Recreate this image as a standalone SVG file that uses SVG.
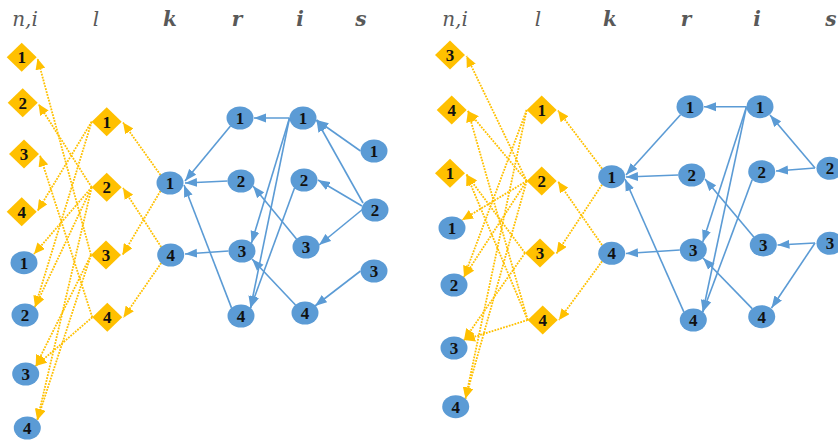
<svg xmlns="http://www.w3.org/2000/svg" width="838" height="441" viewBox="0 0 838 441">
<style>
.hd{font-family:"DejaVu Serif","Liberation Serif",serif;font-style:italic;font-size:20px;fill:#595959;text-anchor:middle}
.hb{font-weight:bold}
.dm{fill:#FFC000}
.cb{fill:#5B9BD5}
.t{font-family:"Liberation Serif","DejaVu Serif",serif;font-weight:bold;font-size:17px;fill:#111;text-anchor:middle}
.ye{stroke:#FFC000;stroke-width:1.8;stroke-dasharray:1.8 1.2;fill:none;marker-end:url(#ay)}
.be{stroke:#5B9BD5;stroke-width:1.6;fill:none;marker-end:url(#ab)}
</style>
<defs>
<marker id="ay" markerUnits="userSpaceOnUse" markerWidth="12" markerHeight="10" refX="11" refY="5" orient="auto"><path d="M0,0 L11,5 L0,10 z" fill="#FFC000"/></marker>
<marker id="ab" markerUnits="userSpaceOnUse" markerWidth="13" markerHeight="10" refX="12" refY="5" orient="auto"><path d="M0,0.5 L12,5 L0,9.5 z" fill="#5B9BD5"/></marker>
<polygon id="dia" points="0,-14.5 15,0 0,14.5 -15,0"/>
<ellipse id="ell" rx="13.5" ry="11.5"/>
</defs>
<rect width="838" height="441" fill="#fff"/>
<g id="headers">
<text class="hd" x="25" y="26">n,i</text>
<text class="hd" x="96" y="26">l</text>
<text class="hd hb" x="170" y="26">k</text>
<text class="hd hb" x="237" y="26">r</text>
<text class="hd hb" x="300" y="26">i</text>
<text class="hd hb" x="361" y="26">s</text>
<text class="hd" x="455" y="26">n,i</text>
<text class="hd" x="538" y="26">l</text>
<text class="hd hb" x="610" y="26">k</text>
<text class="hd hb" x="686" y="26">r</text>
<text class="hd hb" x="757" y="26">i</text>
<text class="hd hb" x="831" y="26">s</text>
</g>
<g id="connectors">
<!-- left panel yellow -->
<line class="ye" x1="160.5" y1="175" x2="123" y2="122.5"/>
<line class="ye" x1="160.5" y1="191" x2="122.5" y2="255"/>
<line class="ye" x1="161.2" y1="247" x2="123" y2="188"/>
<line class="ye" x1="161.2" y1="263" x2="123.5" y2="317.5"/>
<line class="ye" x1="91.7" y1="121.7" x2="37.5" y2="211"/>
<line class="ye" x1="91.7" y1="121.7" x2="35" y2="307"/>
<line class="ye" x1="91.7" y1="187.3" x2="38.5" y2="104"/>
<line class="ye" x1="91.7" y1="187.3" x2="34" y2="254"/>
<line class="ye" x1="91.7" y1="187.3" x2="35" y2="307"/>
<line class="ye" x1="91.7" y1="187.3" x2="37.3" y2="420"/>
<line class="ye" x1="91" y1="255" x2="37.5" y2="58.5"/>
<line class="ye" x1="91" y1="255" x2="35.7" y2="366"/>
<line class="ye" x1="91" y1="255" x2="37.3" y2="420"/>
<line class="ye" x1="92.3" y1="317.3" x2="40" y2="155.5"/>
<line class="ye" x1="92.3" y1="317.3" x2="35.7" y2="366"/>
<!-- left panel blue -->
<line class="be" x1="230.5" y1="126.1" x2="185" y2="181"/>
<line class="be" x1="227.5" y1="181" x2="185" y2="183"/>
<line class="be" x1="231.5" y1="307.9" x2="184" y2="185"/>
<line class="be" x1="228.5" y1="251" x2="185" y2="254"/>
<line class="be" x1="289.5" y1="118" x2="254" y2="118"/>
<line class="be" x1="289.5" y1="118" x2="251.5" y2="243"/>
<line class="be" x1="289.5" y1="118" x2="250.5" y2="308"/>
<line class="be" x1="294.5" y1="188" x2="250.5" y2="308"/>
<line class="be" x1="296.5" y1="239" x2="253" y2="186"/>
<line class="be" x1="295.5" y1="305" x2="252" y2="259"/>
<line class="be" x1="360.5" y1="151" x2="316.5" y2="120"/>
<line class="be" x1="363" y1="203" x2="316.5" y2="120"/>
<line class="be" x1="362" y1="206" x2="318" y2="180"/>
<line class="be" x1="363" y1="209" x2="319" y2="245"/>
<line class="be" x1="360.5" y1="271" x2="315" y2="306"/>
<!-- right panel yellow -->
<line class="ye" x1="602" y1="168.6" x2="558" y2="110.5"/>
<line class="ye" x1="602" y1="184.8" x2="556.5" y2="253.5"/>
<line class="ye" x1="602" y1="245" x2="558" y2="181.5"/>
<line class="ye" x1="602" y1="261.4" x2="559" y2="320"/>
<line class="ye" x1="526.7" y1="110" x2="464" y2="277"/>
<line class="ye" x1="526.7" y1="110" x2="465.5" y2="398.5"/>
<line class="ye" x1="526.7" y1="181" x2="466.5" y2="56"/>
<line class="ye" x1="526.7" y1="181" x2="468" y2="111"/>
<line class="ye" x1="526.7" y1="181" x2="462" y2="220"/>
<line class="ye" x1="526.7" y1="181" x2="464" y2="277"/>
<line class="ye" x1="526.7" y1="181" x2="465.5" y2="398.5"/>
<line class="ye" x1="525" y1="253" x2="466.5" y2="174.5"/>
<line class="ye" x1="525" y1="253" x2="464" y2="340"/>
<line class="ye" x1="527.7" y1="320" x2="468" y2="111"/>
<line class="ye" x1="527.7" y1="320" x2="466.5" y2="174.5"/>
<line class="ye" x1="527.7" y1="320" x2="464" y2="340"/>
<!-- right panel blue -->
<line class="be" x1="680.5" y1="114.8" x2="626" y2="175"/>
<line class="be" x1="678.2" y1="175" x2="626" y2="177"/>
<line class="be" x1="683.8" y1="311.9" x2="625" y2="179"/>
<line class="be" x1="679.8" y1="250" x2="626" y2="253.5"/>
<line class="be" x1="746.5" y1="106.7" x2="704" y2="106.7"/>
<line class="be" x1="746.5" y1="106.7" x2="702.8" y2="242"/>
<line class="be" x1="746.5" y1="106.7" x2="702.8" y2="312"/>
<line class="be" x1="752.2" y1="179.8" x2="702.8" y2="312"/>
<line class="be" x1="753.8" y1="236.9" x2="705" y2="179"/>
<line class="be" x1="752.2" y1="308.6" x2="703" y2="258"/>
<line class="be" x1="815" y1="168" x2="770" y2="115"/>
<line class="be" x1="815" y1="168" x2="776" y2="171"/>
<line class="be" x1="815" y1="243" x2="777.5" y2="245"/>
<line class="be" x1="815" y1="243" x2="771.5" y2="308"/>
</g>
<!-- left panel nodes -->
<g id="L-ni-d1"><use href="#dia" class="dm" x="21.7" y="57.3"/><text class="t" x="21.7" y="63.3">1</text></g>
<g id="L-ni-d2"><use href="#dia" class="dm" x="22.7" y="102.7"/><text class="t" x="22.7" y="108.7">2</text></g>
<g id="L-ni-d3"><use href="#dia" class="dm" x="24" y="154"/><text class="t" x="24" y="160">3</text></g>
<g id="L-ni-d4"><use href="#dia" class="dm" x="21.7" y="211.7"/><text class="t" x="21.7" y="217.7">4</text></g>
<g id="L-ni-c1"><use href="#ell" class="cb" x="24" y="262.7"/><text class="t" x="24" y="268.7">1</text></g>
<g id="L-ni-c2"><use href="#ell" class="cb" x="25" y="315"/><text class="t" x="25" y="321">2</text></g>
<g id="L-ni-c3"><use href="#ell" class="cb" x="25.7" y="374"/><text class="t" x="25.7" y="380">3</text></g>
<g id="L-ni-c4"><use href="#ell" class="cb" x="27.3" y="428"/><text class="t" x="27.3" y="434">4</text></g>
<g id="L-l1"><use href="#dia" class="dm" x="106.7" y="121.7"/><text class="t" x="106.7" y="127.7">1</text></g>
<g id="L-l2"><use href="#dia" class="dm" x="106.7" y="187.3"/><text class="t" x="106.7" y="193.3">2</text></g>
<g id="L-l3"><use href="#dia" class="dm" x="106" y="255"/><text class="t" x="106" y="261">3</text></g>
<g id="L-l4"><use href="#dia" class="dm" x="107.3" y="317.3"/><text class="t" x="107.3" y="323.3">4</text></g>
<g id="L-k1"><use href="#ell" class="cb" x="170" y="183"/><text class="t" x="170" y="189">1</text></g>
<g id="L-k4"><use href="#ell" class="cb" x="170.7" y="255"/><text class="t" x="170.7" y="261">4</text></g>
<g id="L-r1"><use href="#ell" class="cb" x="240" y="118"/><text class="t" x="240" y="124">1</text></g>
<g id="L-r2"><use href="#ell" class="cb" x="241" y="181"/><text class="t" x="241" y="187">2</text></g>
<g id="L-r3"><use href="#ell" class="cb" x="242" y="251"/><text class="t" x="242" y="257">3</text></g>
<g id="L-r4"><use href="#ell" class="cb" x="241" y="316"/><text class="t" x="241" y="322">4</text></g>
<g id="L-i1"><use href="#ell" class="cb" x="303" y="118"/><text class="t" x="303" y="124">1</text></g>
<g id="L-i2"><use href="#ell" class="cb" x="304" y="180"/><text class="t" x="304" y="186">2</text></g>
<g id="L-i3"><use href="#ell" class="cb" x="306" y="247"/><text class="t" x="306" y="253">3</text></g>
<g id="L-i4"><use href="#ell" class="cb" x="305" y="313"/><text class="t" x="305" y="319">4</text></g>
<g id="L-s1"><use href="#ell" class="cb" x="374" y="151"/><text class="t" x="374" y="157">1</text></g>
<g id="L-s2"><use href="#ell" class="cb" x="375" y="210"/><text class="t" x="375" y="216">2</text></g>
<g id="L-s3"><use href="#ell" class="cb" x="374" y="271"/><text class="t" x="374" y="277">3</text></g>
<!-- right panel nodes -->
<g id="R-ni-d3"><use href="#dia" class="dm" x="450" y="55"/><text class="t" x="450" y="61">3</text></g>
<g id="R-ni-d4"><use href="#dia" class="dm" x="451.7" y="110"/><text class="t" x="451.7" y="116">4</text></g>
<g id="R-ni-d1"><use href="#dia" class="dm" x="450" y="173.3"/><text class="t" x="450" y="179.3">1</text></g>
<g id="R-ni-c1"><use href="#ell" class="cb" x="452" y="228"/><text class="t" x="452" y="234">1</text></g>
<g id="R-ni-c2"><use href="#ell" class="cb" x="454" y="285"/><text class="t" x="454" y="291">2</text></g>
<g id="R-ni-c3"><use href="#ell" class="cb" x="454" y="348"/><text class="t" x="454" y="354">3</text></g>
<g id="R-ni-c4"><use href="#ell" class="cb" x="455.7" y="406.7"/><text class="t" x="455.7" y="412.7">4</text></g>
<g id="R-l1"><use href="#dia" class="dm" x="541.7" y="110"/><text class="t" x="541.7" y="116">1</text></g>
<g id="R-l2"><use href="#dia" class="dm" x="541.7" y="181"/><text class="t" x="541.7" y="187">2</text></g>
<g id="R-l3"><use href="#dia" class="dm" x="540" y="253"/><text class="t" x="540" y="259">3</text></g>
<g id="R-l4"><use href="#dia" class="dm" x="542.7" y="320"/><text class="t" x="542.7" y="326">4</text></g>
<g id="R-k1"><use href="#ell" class="cb" x="611.7" y="176.7"/><text class="t" x="611.7" y="182.7">1</text></g>
<g id="R-k4"><use href="#ell" class="cb" x="611.7" y="253.3"/><text class="t" x="611.7" y="259.3">4</text></g>
<g id="R-r1"><use href="#ell" class="cb" x="690" y="106.7"/><text class="t" x="690" y="112.7">1</text></g>
<g id="R-r2"><use href="#ell" class="cb" x="691.7" y="175"/><text class="t" x="691.7" y="181">2</text></g>
<g id="R-r3"><use href="#ell" class="cb" x="693.3" y="250"/><text class="t" x="693.3" y="256">3</text></g>
<g id="R-r4"><use href="#ell" class="cb" x="693.3" y="320"/><text class="t" x="693.3" y="326">4</text></g>
<g id="R-i1"><use href="#ell" class="cb" x="760" y="106.7"/><text class="t" x="760" y="112.7">1</text></g>
<g id="R-i2"><use href="#ell" class="cb" x="761.7" y="171.7"/><text class="t" x="761.7" y="177.7">2</text></g>
<g id="R-i3"><use href="#ell" class="cb" x="763.3" y="245"/><text class="t" x="763.3" y="251">3</text></g>
<g id="R-i4"><use href="#ell" class="cb" x="761.7" y="316.7"/><text class="t" x="761.7" y="322.7">4</text></g>
<g id="R-s2"><use href="#ell" class="cb" x="830" y="168.3"/><text class="t" x="830" y="174.3">2</text></g>
<g id="R-s3"><use href="#ell" class="cb" x="830" y="243.3"/><text class="t" x="830" y="249.3">3</text></g>
</svg>
